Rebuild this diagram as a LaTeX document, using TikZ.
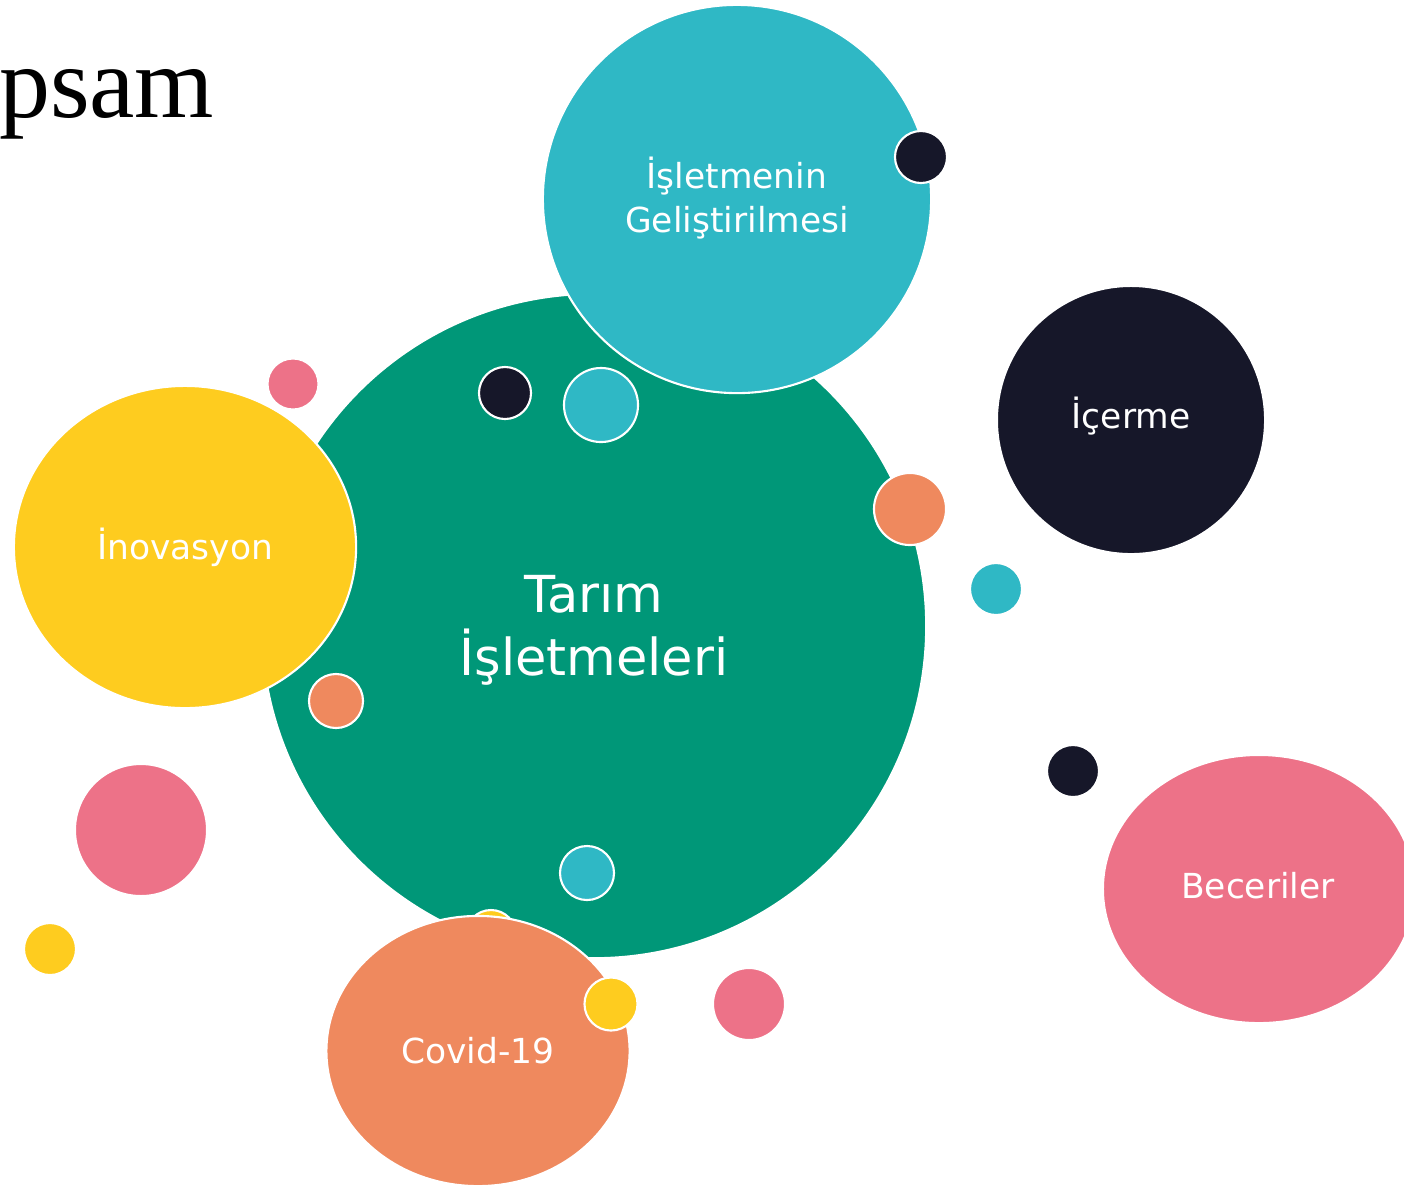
\documentclass[tikz,border=0pt]{standalone}
\usepackage{fontspec}
\setmainfont{DejaVu Sans}
\newfontfamily\headfont{Liberation Serif}
\usetikzlibrary{shapes.geometric}
\definecolor{cgreen}{HTML}{009778}
\definecolor{cteal}{HTML}{2FB8C5}
\definecolor{cnavy}{HTML}{161729}
\definecolor{cyellow}{HTML}{FECC1F}
\definecolor{cpink}{HTML}{ED7288}
\definecolor{corange}{HTML}{EF895E}
\tikzset{
  blob/.style={ellipse,draw=white,line width=0.6pt,inner sep=0pt},
  dot/.style={circle,draw=white,line width=0.6pt,inner sep=0pt,minimum size=#1},
  lbl/.style={text=white,anchor=base,inner sep=0pt,align=center,font=\fontsize{9.8}{12.5}\selectfont}
}
\begin{document}
\begin{tikzpicture}[x=0.01cm,y=-0.01cm]
      \useasboundingbox (0,0) rectangle (1404,1187);
      \clip (0,0) rectangle (1404,1187);
      \node[font=\headfont\fontsize{29}{30}\selectfont,anchor=base east,inner sep=0pt] (title) at (215,117) {psam};
      % big bubbles
      \node[blob,fill=cgreen,minimum width=66.4mm,minimum height=66.4mm] (tarim) at (594,626) {};
      \node[blob,fill=cteal,minimum width=38.8mm,minimum height=38.8mm] (gelis) at (737,199) {};
      \node[blob,fill=cyellow,minimum width=34.2mm,minimum height=32.2mm] (inov) at (185,547) {};
      \node[dot=5mm,fill=cyellow] (y2) at (491,935) {};
      \node[blob,fill=corange,minimum width=30.3mm,minimum height=27mm] (covid) at (478,1051) {};
      \node[blob,fill=cnavy,minimum width=26.8mm,minimum height=26.8mm] (icerme) at (1131,420) {};
      \node[blob,fill=cpink,minimum width=31.2mm,minimum height=26.8mm] (beceri) at (1259,889) {};
      % small bubbles
      \begin{scope}
        \node[dot=5.1mm,fill=cpink] (p1) at (293,384) {};
        \node[dot=5.2mm,fill=cnavy] (n1) at (505,393) {};
        \node[dot=7.4mm,fill=cteal] (t1) at (601,405) {};
        \node[dot=5.2mm,fill=cnavy] (n2) at (921,157) {};
        \node[dot=7.2mm,fill=corange] (o1) at (910,509) {};
        \node[dot=5.2mm,fill=cteal] (t2) at (996,589) {};
        \node[dot=5.4mm,fill=corange] (o2) at (336,701) {};
        \node[dot=13.2mm,fill=cpink] (p2) at (141,830) {};
        \node[dot=5.2mm,fill=cyellow] (y1) at (50,949) {};
        \node[dot=5.4mm,fill=cteal] (t3) at (587,873) {};
        \node[dot=5.3mm,fill=cyellow] (y3) at (611,1004) {};
        \node[dot=7.2mm,fill=cpink] (p3) at (749,1004) {};
        \node[dot=5.2mm,fill=cnavy] (n3) at (1073,771) {};
      \end{scope}
      % labels
      \node[lbl,font=\fontsize{14.5}{17.9}\selectfont] (tarimtxt) at (594,675) {Tarım\\İşletmeleri};
      \node[lbl] (gelistxt) at (737,232) {İşletmenin\\Geliştirilmesi};
      \node[lbl] (inovtxt) at (185,559) {İnovasyon};
      \node[lbl] (icermetxt) at (1131,428) {İçerme};
      \node[lbl] (becerítxt) at (1258,898) {Beceriler};
      \node[lbl] (covidtxt) at (478,1063) {Covid-19};
\end{tikzpicture}
\end{document}
